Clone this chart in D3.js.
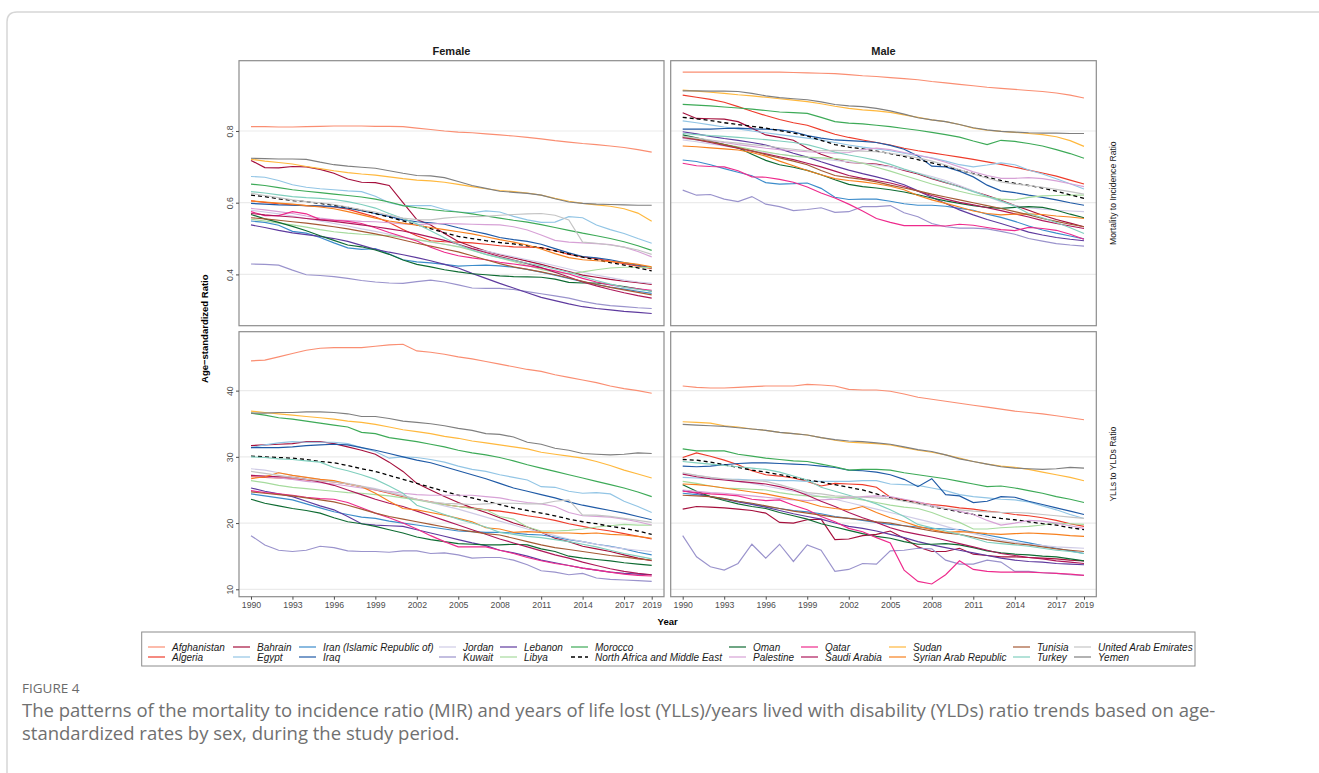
<!DOCTYPE html>
<html>
<head>
<meta charset="utf-8">
<script src="https://cdn.jsdelivr.net/npm/d3@7"></script>
<style>
  body { margin: 0; background: #fff; }
  svg { display: block; }
</style>
</head>
<body>
<div id="chart"></div>
<script>
// ---- data -------------------------------------------------------------
const years = [1990, 1991, 1992, 1993, 1994, 1995, 1996, 1997, 1998, 1999,
  2000, 2001, 2002, 2003, 2004, 2005, 2006, 2007, 2008, 2009,
  2010, 2011, 2012, 2013, 2014, 2015, 2016, 2017, 2018, 2019];
const xTicks = [1990, 1993, 1996, 1999, 2002, 2005, 2008, 2011, 2014, 2017, 2019];
const mirTicks = [0.4, 0.6, 0.8];
const yllTicks = [10, 20, 30, 40];
const sexes = ["Female", "Male"];
const measures = ["Mortality to Incidence Ratio", "YLLs to YLDs Ratio"];

const REGION = "North Africa and Middle East";
const countries = ["Afghanistan", "Algeria", "Bahrain", "Egypt", "Iran (Islamic Republic of)", "Iraq",
  "Jordan", "Kuwait", "Lebanon", "Libya", "Morocco", REGION, "Oman", "Palestine", "Qatar",
  "Saudi Arabia", "Sudan", "Syrian Arab Republic", "Tunisia", "Turkey", "United Arab Emirates", "Yemen"];
const palette = ["#fa8e72", "#ee3b2a", "#a50f3c", "#92c5e5", "#3c8ccb", "#1f5aa6",
  "#cfcbe6", "#9a93cc", "#5e3a9e", "#a6db9d", "#3daa57", "#000000", "#0e6b32", "#d7a1d6", "#ee2a8c",
  "#ae1759", "#ffb83d", "#f7801e", "#a45a34", "#80cfbe", "#c4c4c4", "#7f7f7f"];

// mortality to incidence ratio, female
const mirFemale = {
  "Afghanistan": [0.812,0.812,0.811,0.811,0.812,0.813,0.814,0.814,0.814,0.813,0.813,0.812,0.808,0.804,0.800,0.797,0.795,0.792,0.789,0.786,0.782,0.778,0.773,0.769,0.765,0.762,0.758,0.754,0.748,0.741],
  "Algeria": [0.605,0.601,0.597,0.594,0.592,0.590,0.588,0.582,0.571,0.560,0.545,0.525,0.508,0.494,0.491,0.490,0.488,0.484,0.480,0.477,0.476,0.475,0.466,0.456,0.449,0.444,0.437,0.430,0.423,0.416],
  "Bahrain": [0.718,0.698,0.697,0.701,0.700,0.693,0.682,0.666,0.657,0.656,0.648,0.600,0.553,0.538,0.514,0.492,0.478,0.465,0.455,0.446,0.437,0.428,0.418,0.408,0.398,0.392,0.386,0.381,0.377,0.372],
  "Egypt": [0.673,0.671,0.662,0.650,0.643,0.639,0.636,0.633,0.631,0.618,0.600,0.592,0.592,0.592,0.581,0.574,0.572,0.577,0.574,0.562,0.552,0.545,0.546,0.561,0.558,0.538,0.525,0.514,0.500,0.487],
  "Iran (Islamic Republic of)": [0.549,0.545,0.537,0.520,0.515,0.503,0.488,0.474,0.470,0.472,0.457,0.441,0.435,0.432,0.428,0.423,0.425,0.426,0.424,0.420,0.414,0.406,0.398,0.389,0.380,0.372,0.365,0.359,0.353,0.347],
  "Iraq": [0.598,0.596,0.594,0.593,0.592,0.591,0.589,0.585,0.578,0.570,0.562,0.552,0.547,0.544,0.540,0.530,0.521,0.513,0.503,0.497,0.492,0.484,0.472,0.460,0.450,0.446,0.441,0.433,0.426,0.419],
  "Jordan": [0.579,0.574,0.569,0.563,0.556,0.549,0.542,0.535,0.527,0.520,0.512,0.504,0.497,0.490,0.484,0.478,0.472,0.465,0.457,0.449,0.441,0.433,0.424,0.415,0.406,0.398,0.391,0.384,0.379,0.375],
  "Kuwait": [0.429,0.428,0.426,0.412,0.399,0.397,0.394,0.389,0.383,0.379,0.376,0.375,0.380,0.384,0.379,0.371,0.362,0.361,0.361,0.358,0.352,0.346,0.340,0.334,0.325,0.318,0.313,0.310,0.307,0.305],
  "Lebanon": [0.538,0.531,0.523,0.516,0.511,0.506,0.500,0.492,0.481,0.470,0.462,0.455,0.447,0.438,0.428,0.418,0.403,0.389,0.375,0.362,0.349,0.336,0.327,0.318,0.310,0.305,0.301,0.297,0.294,0.291],
  "Libya": [0.554,0.549,0.543,0.538,0.532,0.525,0.519,0.515,0.512,0.510,0.508,0.503,0.497,0.491,0.484,0.477,0.467,0.456,0.446,0.436,0.425,0.414,0.406,0.402,0.407,0.413,0.418,0.420,0.420,0.419],
  "Morocco": [0.652,0.648,0.642,0.636,0.632,0.628,0.624,0.620,0.616,0.610,0.602,0.592,0.586,0.581,0.577,0.574,0.569,0.563,0.557,0.551,0.546,0.539,0.531,0.523,0.515,0.508,0.500,0.491,0.480,0.467],
  "North Africa and Middle East": [0.621,0.617,0.611,0.606,0.603,0.598,0.593,0.587,0.579,0.570,0.560,0.549,0.538,0.528,0.516,0.506,0.500,0.494,0.489,0.485,0.480,0.474,0.466,0.457,0.448,0.441,0.433,0.426,0.418,0.410],
  "Oman": [0.567,0.555,0.545,0.534,0.522,0.508,0.495,0.482,0.477,0.468,0.456,0.440,0.428,0.421,0.413,0.407,0.402,0.399,0.396,0.394,0.393,0.392,0.387,0.378,0.376,0.376,0.372,0.366,0.360,0.353],
  "Palestine": [0.584,0.580,0.575,0.570,0.563,0.557,0.552,0.550,0.548,0.547,0.544,0.541,0.539,0.541,0.542,0.541,0.540,0.539,0.538,0.533,0.524,0.510,0.495,0.490,0.488,0.486,0.483,0.476,0.464,0.449],
  "Qatar": [0.575,0.564,0.564,0.575,0.569,0.553,0.551,0.548,0.542,0.530,0.517,0.505,0.493,0.476,0.462,0.452,0.446,0.441,0.434,0.429,0.424,0.418,0.410,0.401,0.389,0.379,0.371,0.365,0.360,0.356],
  "Saudi Arabia": [0.570,0.566,0.563,0.560,0.556,0.552,0.548,0.543,0.538,0.533,0.527,0.521,0.513,0.504,0.495,0.484,0.472,0.461,0.450,0.440,0.430,0.419,0.406,0.393,0.379,0.368,0.358,0.349,0.341,0.334],
  "Sudan": [0.721,0.716,0.712,0.708,0.701,0.695,0.689,0.684,0.680,0.677,0.672,0.667,0.663,0.661,0.657,0.651,0.645,0.639,0.634,0.631,0.627,0.621,0.612,0.604,0.598,0.594,0.590,0.583,0.571,0.548],
  "Syrian Arab Republic": [0.605,0.602,0.599,0.596,0.592,0.588,0.583,0.575,0.566,0.557,0.549,0.543,0.537,0.531,0.525,0.519,0.513,0.505,0.497,0.490,0.482,0.471,0.458,0.447,0.441,0.438,0.436,0.433,0.428,0.421],
  "Tunisia": [0.558,0.555,0.551,0.547,0.543,0.538,0.533,0.527,0.520,0.513,0.505,0.496,0.487,0.479,0.471,0.463,0.452,0.441,0.430,0.421,0.414,0.407,0.399,0.390,0.381,0.372,0.364,0.357,0.350,0.343],
  "Turkey": [0.631,0.627,0.622,0.617,0.614,0.612,0.609,0.603,0.595,0.585,0.570,0.556,0.541,0.522,0.502,0.483,0.468,0.456,0.447,0.439,0.431,0.424,0.415,0.406,0.394,0.383,0.373,0.364,0.358,0.353],
  "United Arab Emirates": [0.626,0.620,0.614,0.608,0.603,0.600,0.595,0.588,0.580,0.574,0.565,0.557,0.553,0.552,0.557,0.560,0.561,0.562,0.565,0.567,0.569,0.570,0.565,0.552,0.490,0.487,0.482,0.476,0.468,0.456],
  "Yemen": [0.724,0.723,0.722,0.722,0.721,0.713,0.706,0.702,0.699,0.696,0.689,0.682,0.676,0.675,0.670,0.659,0.648,0.640,0.632,0.629,0.626,0.621,0.611,0.602,0.598,0.596,0.595,0.594,0.593,0.593]
};

// mortality to incidence ratio, male
const mirMale = {
  "Afghanistan": [0.964,0.964,0.964,0.964,0.964,0.964,0.964,0.964,0.963,0.962,0.961,0.960,0.957,0.954,0.952,0.949,0.946,0.943,0.938,0.934,0.930,0.926,0.922,0.919,0.916,0.913,0.910,0.906,0.900,0.892],
  "Algeria": [0.900,0.894,0.888,0.880,0.868,0.855,0.843,0.832,0.823,0.816,0.803,0.791,0.782,0.775,0.768,0.761,0.752,0.745,0.739,0.733,0.727,0.721,0.714,0.707,0.699,0.691,0.683,0.674,0.663,0.652],
  "Bahrain": [0.851,0.835,0.834,0.833,0.826,0.808,0.789,0.782,0.774,0.752,0.735,0.722,0.712,0.710,0.708,0.701,0.690,0.680,0.667,0.656,0.645,0.632,0.620,0.607,0.592,0.579,0.565,0.553,0.543,0.533],
  "Egypt": [0.828,0.823,0.817,0.811,0.806,0.800,0.795,0.790,0.785,0.780,0.775,0.768,0.761,0.755,0.750,0.745,0.738,0.731,0.725,0.716,0.706,0.700,0.705,0.711,0.706,0.691,0.680,0.667,0.653,0.638],
  "Iran (Islamic Republic of)": [0.719,0.715,0.706,0.695,0.685,0.675,0.656,0.652,0.653,0.655,0.640,0.615,0.609,0.610,0.610,0.604,0.597,0.593,0.593,0.590,0.584,0.579,0.568,0.559,0.548,0.535,0.524,0.515,0.507,0.499],
  "Iraq": [0.805,0.805,0.805,0.807,0.808,0.806,0.805,0.803,0.798,0.787,0.780,0.775,0.773,0.771,0.768,0.760,0.749,0.730,0.702,0.700,0.688,0.672,0.649,0.633,0.628,0.621,0.615,0.608,0.600,0.593],
  "Jordan": [0.775,0.770,0.764,0.758,0.752,0.746,0.740,0.735,0.730,0.726,0.722,0.718,0.714,0.710,0.705,0.700,0.692,0.683,0.673,0.662,0.648,0.633,0.617,0.603,0.592,0.586,0.582,0.579,0.577,0.575],
  "Kuwait": [0.635,0.621,0.623,0.610,0.603,0.617,0.596,0.589,0.578,0.581,0.586,0.573,0.575,0.589,0.589,0.592,0.572,0.561,0.542,0.533,0.529,0.529,0.527,0.520,0.512,0.500,0.493,0.486,0.482,0.479],
  "Lebanon": [0.798,0.792,0.785,0.779,0.774,0.768,0.761,0.750,0.738,0.727,0.714,0.702,0.691,0.681,0.672,0.662,0.650,0.633,0.615,0.598,0.580,0.566,0.553,0.542,0.530,0.518,0.510,0.503,0.498,0.494],
  "Libya": [0.780,0.775,0.769,0.763,0.756,0.749,0.742,0.735,0.730,0.727,0.725,0.723,0.719,0.710,0.699,0.688,0.676,0.664,0.652,0.642,0.632,0.623,0.616,0.610,0.608,0.615,0.619,0.620,0.621,0.621],
  "Morocco": [0.874,0.872,0.870,0.867,0.864,0.861,0.857,0.853,0.851,0.849,0.838,0.826,0.822,0.820,0.816,0.812,0.807,0.802,0.796,0.790,0.783,0.772,0.762,0.774,0.771,0.765,0.758,0.748,0.737,0.724],
  "North Africa and Middle East": [0.838,0.834,0.829,0.823,0.818,0.813,0.808,0.801,0.794,0.786,0.774,0.762,0.755,0.750,0.744,0.737,0.729,0.720,0.711,0.702,0.691,0.681,0.671,0.662,0.654,0.648,0.641,0.632,0.622,0.612],
  "Oman": [0.789,0.781,0.772,0.762,0.753,0.735,0.718,0.706,0.699,0.690,0.678,0.664,0.651,0.645,0.641,0.636,0.630,0.622,0.613,0.605,0.598,0.592,0.587,0.584,0.587,0.589,0.587,0.579,0.568,0.558],
  "Palestine": [0.780,0.776,0.772,0.768,0.762,0.757,0.752,0.748,0.745,0.742,0.740,0.738,0.740,0.748,0.752,0.748,0.740,0.733,0.724,0.713,0.700,0.686,0.676,0.668,0.668,0.670,0.667,0.661,0.653,0.645],
  "Qatar": [0.710,0.703,0.701,0.700,0.689,0.672,0.671,0.665,0.657,0.644,0.627,0.613,0.596,0.577,0.556,0.545,0.536,0.536,0.536,0.535,0.540,0.537,0.531,0.525,0.522,0.531,0.528,0.523,0.512,0.498],
  "Saudi Arabia": [0.782,0.776,0.768,0.760,0.752,0.744,0.736,0.728,0.720,0.710,0.700,0.688,0.676,0.668,0.662,0.655,0.645,0.632,0.620,0.610,0.601,0.594,0.586,0.578,0.569,0.560,0.550,0.542,0.535,0.528],
  "Sudan": [0.914,0.911,0.908,0.905,0.901,0.898,0.894,0.890,0.886,0.882,0.876,0.869,0.863,0.859,0.856,0.852,0.845,0.838,0.831,0.826,0.818,0.808,0.802,0.799,0.796,0.793,0.790,0.784,0.773,0.757],
  "Syrian Arab Republic": [0.758,0.756,0.753,0.750,0.747,0.740,0.730,0.716,0.703,0.690,0.678,0.667,0.662,0.658,0.653,0.646,0.636,0.620,0.608,0.598,0.588,0.577,0.570,0.566,0.568,0.569,0.567,0.563,0.560,0.556],
  "Tunisia": [0.784,0.777,0.770,0.762,0.754,0.745,0.734,0.725,0.716,0.706,0.690,0.676,0.670,0.665,0.658,0.649,0.641,0.633,0.624,0.616,0.608,0.600,0.592,0.584,0.575,0.566,0.556,0.548,0.540,0.533],
  "Turkey": [0.793,0.790,0.787,0.785,0.782,0.779,0.776,0.772,0.768,0.762,0.752,0.741,0.733,0.726,0.718,0.707,0.694,0.682,0.669,0.657,0.644,0.631,0.618,0.605,0.590,0.570,0.558,0.545,0.530,0.514],
  "United Arab Emirates": [0.785,0.780,0.775,0.770,0.766,0.762,0.758,0.753,0.749,0.745,0.745,0.746,0.745,0.744,0.742,0.738,0.732,0.725,0.716,0.705,0.692,0.680,0.668,0.658,0.652,0.648,0.643,0.637,0.631,0.624],
  "Yemen": [0.912,0.912,0.911,0.911,0.910,0.905,0.898,0.893,0.890,0.887,0.881,0.874,0.870,0.868,0.863,0.856,0.847,0.837,0.831,0.826,0.818,0.809,0.803,0.799,0.797,0.795,0.794,0.794,0.793,0.793]
};

// YLLs to YLDs ratio, female
const yllFemale = {
  "Afghanistan": [44.5,44.6,45.1,45.6,46.1,46.4,46.5,46.5,46.5,46.7,46.9,47.0,46.0,45.8,45.5,45.1,44.8,44.4,44.0,43.6,43.2,42.9,42.4,42.0,41.6,41.2,40.7,40.3,40.0,39.6],
  "Algeria": [27.0,26.9,26.8,26.7,26.5,26.4,26.2,25.9,25.5,25.0,24.5,24.0,23.6,23.2,22.8,22.5,22.3,22.0,21.8,21.5,21.1,20.8,20.4,19.9,19.5,19.1,18.8,18.4,18.0,17.6],
  "Bahrain": [31.7,31.8,31.9,32.0,32.3,32.3,32.0,31.5,31.0,30.4,29.2,27.8,26.0,25.0,24.0,23.1,22.3,21.6,20.8,20.0,19.4,18.6,17.7,17.2,16.5,16.1,15.7,15.2,14.7,14.3],
  "Egypt": [31.4,31.8,32.1,32.3,32.2,32.2,32.2,32.0,31.4,30.8,29.8,30.0,29.9,29.6,29.2,28.6,28.1,27.8,27.3,26.9,26.5,25.5,25.4,24.8,24.5,24.6,24.4,23.3,22.5,21.6],
  "Iran (Islamic Republic of)": [24.4,24.1,23.8,23.5,22.9,22.3,21.7,21.3,20.9,20.7,20.3,20.0,19.7,19.4,19.1,18.8,18.7,18.6,18.6,18.5,18.3,18.2,17.9,17.5,17.2,16.8,16.5,16.1,15.6,15.2],
  "Iraq": [31.4,31.4,31.4,31.5,31.7,31.8,31.9,31.8,31.4,31.0,30.5,30.0,29.5,29.1,28.5,27.9,27.3,26.7,26.0,25.3,24.8,24.3,23.8,23.2,22.7,22.3,21.9,21.5,21.0,20.5],
  "Jordan": [28.2,28.0,27.6,27.2,26.9,26.6,26.3,26.0,25.6,25.2,24.7,24.2,23.6,23.1,22.6,22.1,21.5,20.9,20.3,19.7,19.1,18.6,18.1,17.6,17.2,16.8,16.4,16.1,15.9,15.7],
  "Kuwait": [18.1,16.7,15.9,15.7,15.9,16.5,16.3,15.8,15.7,15.7,15.6,15.8,15.8,15.4,15.5,15.2,14.7,14.8,14.8,14.4,13.7,12.8,12.6,12.2,12.4,11.7,11.5,11.4,11.3,11.2],
  "Lebanon": [25.3,24.8,24.4,24.0,23.3,22.6,22.0,21.0,19.9,19.7,19.6,19.5,19.0,18.5,18.0,17.5,17.0,16.6,15.9,15.5,15.0,14.4,14.0,13.6,13.2,12.9,12.6,12.4,12.3,12.2],
  "Libya": [26.4,26.1,25.7,25.4,25.2,25.0,24.8,24.6,24.5,24.3,24.1,23.8,23.5,23.1,22.8,22.5,22.2,22.0,21.0,20.6,19.4,18.8,18.8,18.9,19.1,19.4,19.6,19.8,19.7,19.7],
  "Morocco": [36.6,36.3,35.9,35.7,35.4,35.1,34.8,34.5,33.7,33.5,32.9,32.6,32.3,31.9,31.5,31.0,30.6,30.3,29.9,29.4,28.8,28.3,27.8,27.3,26.8,26.3,25.8,25.3,24.7,24.0],
  "North Africa and Middle East": [30.1,30.0,29.9,29.8,29.6,29.3,29.1,28.7,28.2,27.8,27.2,26.6,26.0,25.4,24.8,24.2,23.8,23.3,22.8,22.3,21.9,21.5,21.1,20.6,20.2,19.9,19.5,19.2,18.8,18.3],
  "Oman": [23.6,23.0,22.6,22.2,21.9,21.5,20.8,20.2,19.9,19.5,19.0,18.5,17.9,17.5,17.2,16.9,16.8,16.7,16.7,16.8,16.7,16.1,15.7,15.0,14.7,14.5,14.3,14.0,13.8,13.6],
  "Palestine": [27.2,27.0,26.8,26.6,26.3,26.1,25.9,25.6,25.3,25.0,24.8,24.5,24.3,24.2,24.2,24.2,24.2,24.0,23.8,23.4,23.1,22.9,22.5,21.6,21.1,21.0,20.9,20.6,20.2,19.7],
  "Qatar": [24.9,24.6,24.4,24.2,23.9,23.7,23.6,23.1,22.3,21.5,20.8,20.0,19.1,18.1,17.2,16.4,16.4,16.4,15.9,15.4,14.8,14.3,13.9,13.6,13.2,12.9,12.6,12.3,12.1,12.0],
  "Saudi Arabia": [27.2,27.1,27.0,26.9,26.6,26.2,25.7,25.0,24.3,23.6,23.0,22.5,21.8,21.1,20.4,19.7,19.0,18.3,17.6,17.0,16.4,15.8,15.2,14.7,14.1,13.6,13.1,12.7,12.4,12.2],
  "Sudan": [36.9,36.7,36.5,36.3,36.1,35.9,35.7,35.4,35.2,34.9,34.5,34.1,33.8,33.5,33.1,32.8,32.4,32.1,31.8,31.5,31.2,30.7,30.4,30.1,29.8,29.3,28.7,28.0,27.4,26.8],
  "Syrian Arab Republic": [26.7,27.0,27.6,27.2,26.9,26.6,26.4,25.9,25.5,24.5,23.3,22.2,22.0,21.6,21.2,20.7,20.2,19.3,19.1,18.6,18.7,18.6,18.5,18.5,18.4,18.5,18.3,18.2,18.0,17.7],
  "Tunisia": [24.7,24.5,24.3,24.1,23.8,23.5,23.2,22.7,22.1,21.5,21.0,20.6,20.2,19.8,19.4,19.0,18.7,18.4,18.2,17.7,17.2,16.7,16.3,16.0,15.7,15.4,15.1,14.9,14.6,14.4],
  "Turkey": [30.0,29.9,29.7,29.6,29.4,29.2,28.4,27.9,27.3,26.6,25.6,24.5,22.7,22.0,21.3,20.6,20.0,19.4,18.6,18.3,18.0,17.8,17.5,17.2,16.8,16.4,15.9,15.4,15.0,14.6],
  "United Arab Emirates": [27.8,27.5,27.2,26.9,26.6,26.4,26.2,25.9,25.5,25.1,24.6,24.1,23.6,23.2,23.0,22.9,22.8,22.9,23.0,23.0,22.9,22.9,23.3,23.5,21.2,21.2,21.0,20.7,20.4,20.1],
  "Yemen": [36.6,36.6,36.7,36.7,36.8,36.8,36.7,36.5,36.1,36.1,35.8,35.4,35.2,35.0,34.7,34.3,34.0,33.5,33.4,33.0,32.2,31.9,31.3,31.0,30.5,30.4,30.3,30.4,30.6,30.5]
};

// YLLs to YLDs ratio, male
const yllMale = {
  "Afghanistan": [40.7,40.5,40.4,40.4,40.5,40.6,40.7,40.7,40.7,40.95,40.85,40.7,40.2,40.1,40.1,39.9,39.5,39.0,38.7,38.4,38.1,37.8,37.5,37.2,36.9,36.7,36.5,36.2,35.9,35.6],
  "Algeria": [29.9,30.6,30.1,29.5,28.8,27.9,27.3,27.1,26.8,26.3,25.6,26.0,25.9,25.8,25.4,23.9,23.5,23.1,22.8,22.6,22.3,22.1,21.8,21.6,21.3,21.1,20.8,20.4,19.9,19.5],
  "Bahrain": [22.1,22.5,22.4,22.3,22.1,21.9,21.5,20.1,20.0,20.5,20.6,17.5,17.6,18.1,18.3,18.8,17.7,16.4,15.7,15.7,16.2,15.3,15.1,14.9,14.9,14.8,14.7,14.6,14.4,14.3],
  "Egypt": [26.9,26.8,26.7,26.6,26.6,26.5,26.5,26.4,26.4,26.3,26.3,26.3,26.3,26.4,26.4,25.9,25.8,25.7,25.3,24.9,24.3,24.0,23.8,23.6,23.5,23.2,22.6,22.0,21.3,20.7],
  "Iran (Islamic Republic of)": [24.5,24.3,24.0,23.7,23.3,22.9,22.5,22.2,21.9,21.7,21.4,21.0,20.7,20.4,20.1,19.8,19.6,19.4,19.2,19.1,19.0,18.6,18.2,17.8,17.4,17.0,16.6,16.2,15.8,15.4],
  "Iraq": [28.6,28.5,28.6,28.8,29.0,29.1,29.1,29.0,28.9,28.8,28.6,28.4,28.0,27.9,27.7,27.3,26.6,25.5,26.7,24.3,24.1,23.1,23.3,24.0,23.9,23.3,22.8,22.3,21.8,21.3],
  "Jordan": [27.5,27.2,26.9,26.6,26.3,26.0,25.6,25.2,24.8,24.4,24.0,23.6,23.1,22.6,22.1,21.6,21.1,20.6,20.1,19.5,18.9,18.4,17.9,17.4,17.1,16.8,16.6,16.4,16.3,16.2],
  "Kuwait": [18.1,14.9,13.4,12.9,13.9,16.8,14.7,16.8,14.2,16.7,15.9,12.7,13.0,13.9,13.8,15.8,15.9,16.2,16.1,14.4,13.8,13.8,14.4,14.1,12.7,12.7,12.5,12.4,12.2,12.1],
  "Lebanon": [24.9,24.5,24.0,23.6,23.2,22.8,22.4,21.9,21.4,21.0,20.6,20.0,19.5,19.2,18.8,18.3,17.8,17.2,16.7,16.3,15.9,15.5,15.1,14.7,14.4,14.2,14.1,13.9,13.8,13.7],
  "Libya": [26.3,26.0,25.6,25.3,25.2,25.1,25.0,24.6,24.3,24.1,24.0,23.9,23.8,23.5,23.1,22.7,22.4,22.2,21.6,20.8,20.1,19.1,19.1,19.3,19.4,19.5,19.7,20.0,19.9,19.8],
  "Morocco": [31.2,30.9,30.9,30.9,30.4,30.1,29.8,29.6,29.4,29.3,28.9,28.5,28.0,28.1,28.1,28.0,27.6,27.3,27.0,26.7,26.3,25.9,25.5,25.6,25.3,24.9,24.5,24.0,23.6,23.1],
  "North Africa and Middle East": [29.6,29.5,29.2,28.8,28.4,28.0,27.7,27.3,26.9,26.5,26.2,25.8,25.4,25.0,24.4,23.8,23.4,23.0,22.5,22.1,21.7,21.3,21.0,20.7,20.5,20.2,19.9,19.7,19.3,19.0],
  "Oman": [25.8,24.8,24.0,23.4,22.9,22.5,22.2,21.6,21.1,20.6,19.9,19.4,18.9,18.4,18.0,17.7,17.2,16.8,16.8,16.9,16.7,16.3,15.8,15.5,15.3,15.2,15.0,14.9,14.6,14.3],
  "Palestine": [25.0,24.8,24.6,24.5,24.3,24.1,23.9,23.7,23.5,23.4,23.5,23.6,23.8,24.0,24.1,24.0,23.6,23.2,22.7,22.2,21.8,21.3,20.4,19.7,20.0,20.4,20.3,20.0,19.6,19.2],
  "Qatar": [24.8,24.6,24.4,24.3,24.1,23.6,23.4,23.5,22.7,22.0,21.0,20.2,19.2,18.7,17.8,17.0,12.9,11.2,10.8,12.2,14.3,13.0,12.7,12.6,12.6,12.6,12.5,12.4,12.3,12.1],
  "Saudi Arabia": [27.4,27.0,26.7,26.5,26.3,26.1,25.9,25.5,25.0,24.2,23.3,22.5,21.6,20.8,20.1,19.3,18.7,18.3,17.9,17.4,16.9,16.4,15.9,15.4,15.1,14.8,14.6,14.3,14.1,13.9],
  "Sudan": [35.3,35.2,35.1,34.7,34.5,34.2,34.0,33.7,33.5,33.3,32.9,32.5,32.2,32.1,32.0,31.8,31.4,31.0,30.7,30.3,29.8,29.3,28.9,28.6,28.4,28.1,27.7,27.3,26.9,26.4],
  "Syrian Arab Republic": [25.9,25.8,25.6,25.3,25.0,24.7,24.4,24.0,23.6,23.1,22.5,22.2,22.0,22.5,21.6,20.8,20.2,19.5,19.0,18.6,18.7,18.6,18.4,18.3,18.4,18.5,18.4,18.3,18.1,18.0],
  "Tunisia": [24.2,24.1,24.0,23.7,23.3,23.0,22.6,22.2,21.8,21.5,21.2,20.9,20.7,20.5,20.2,20.0,19.6,19.2,18.8,18.5,18.3,17.9,17.5,17.2,16.9,16.7,16.4,16.1,15.9,15.7],
  "Turkey": [29.3,29.1,28.9,28.7,28.5,28.3,28.1,27.7,27.1,26.5,25.4,24.8,24.2,23.6,22.9,22.0,21.0,19.8,19.3,18.8,18.3,17.7,17.1,16.9,16.7,16.5,16.2,15.9,15.7,15.4],
  "United Arab Emirates": [27.6,27.2,26.9,26.7,26.5,26.4,26.3,25.8,25.2,24.6,24.4,24.1,24.0,23.9,23.8,23.7,23.3,22.9,22.5,22.2,22.0,21.8,21.7,21.6,21.6,21.5,21.3,21.1,20.9,20.7],
  "Yemen": [34.9,34.8,34.7,34.6,34.4,34.2,34.0,33.7,33.5,33.3,32.9,32.6,32.4,32.3,32.1,31.9,31.5,31.1,30.8,30.3,29.7,29.3,28.9,28.5,28.3,28.2,28.1,28.2,28.4,28.3]
};

// ---- layout -----------------------------------------------------------
const width = 1319;
const height = 773;
const font = "'Liberation Sans', Arial, Helvetica, sans-serif";

const svg = d3.select("#chart").append("svg")
  .attr("width", width)
  .attr("height", height)
  .style("font-family", font);

// page frame of the figure box
svg.append("path")
  .attr("d", "M1319,12 H17 Q7,12 7,22 V773")
  .attr("fill", "none")
  .attr("stroke", "#d6d6d6")
  .attr("stroke-width", 1.5);

const colBox = [[239, 664], [670.7, 1096.3]];
const rowBox = [[60.7, 325.7], [331.7, 596.7]];
const rowDomain = [[0.257, 0.996], [8.88, 48.9]];
const rowTicks = [mirTicks, yllTicks];
const rowFormat = [d3.format(".1f"), d3.format("d")];
const panelData = [[mirFemale, mirMale], [yllFemale, yllMale]];

const color = d3.scaleOrdinal(countries, palette);

const xScales = colBox.map(([x0, x1]) =>
  d3.scaleLinear().domain([1990, 2019]).range([x0 + 12, x1 - 12.3]));
const yScales = rowBox.map(([y0, y1], r) =>
  d3.scaleLinear().domain(rowDomain[r]).range([y1, y0]));

rowBox.forEach((rb, r) => {
  colBox.forEach((cb, c) => {
    const x = xScales[c];
    const y = yScales[r];
    const g = svg.append("g");

    // horizontal grid
    g.selectAll("line.grid")
      .data(rowTicks[r])
      .enter()
      .append("line")
      .attr("x1", cb[0]).attr("x2", cb[1])
      .attr("y1", d => y(d)).attr("y2", d => y(d))
      .attr("stroke", "#ebebeb")
      .attr("stroke-width", 1.2);

    const line = d3.line()
      .x((d, i) => x(years[i]))
      .y(d => y(d));

    const data = panelData[r][c];
    g.selectAll("path.series")
      .data(countries)
      .enter()
      .append("path")
      .attr("class", "series")
      .attr("d", k => line(data[k]))
      .attr("fill", "none")
      .attr("stroke", k => color(k))
      .attr("stroke-width", k => k === REGION ? 1.3 : 1.15)
      .attr("stroke-dasharray", k => k === REGION ? "4,3" : null);

    g.append("rect")
      .attr("x", cb[0]).attr("y", rb[0])
      .attr("width", cb[1] - cb[0]).attr("height", rb[1] - rb[0])
      .attr("fill", "none")
      .attr("stroke", "#8c8c8c")
      .attr("stroke-width", 1.2);

    if (r === 1) {
      const ax = g.append("g")
        .attr("transform", `translate(0,${rb[1]})`)
        .call(d3.axisBottom(x).tickValues(xTicks).tickFormat(d3.format("d")).tickSize(3).tickPadding(2));
      ax.select(".domain").remove();
      ax.selectAll(".tick line").attr("stroke", "#4d4d4d");
      ax.selectAll(".tick text")
        .attr("fill", "#4d4d4d")
        .style("font-size", "8.7px")
        .style("font-family", font);
    }
    if (c === 0) {
      const ay = g.append("g")
        .attr("transform", `translate(${cb[0]},0)`)
        .call(d3.axisLeft(y).tickValues(rowTicks[r]).tickFormat(rowFormat[r]).tickSize(3));
      ay.select(".domain").remove();
      ay.selectAll(".tick line").attr("stroke", "#4d4d4d");
      ay.selectAll(".tick text")
        .attr("fill", "#4d4d4d")
        .attr("transform", "rotate(-90)")
        .attr("x", 0)
        .attr("y", -6)
        .attr("dy", 0)
        .attr("text-anchor", "middle")
        .style("font-size", "8.7px")
        .style("font-family", font);
    }
  });
});

// strips
sexes.forEach((s, c) => {
  svg.append("text")
    .attr("x", (colBox[c][0] + colBox[c][1]) / 2)
    .attr("y", 55)
    .attr("text-anchor", "middle")
    .attr("font-weight", "bold")
    .attr("font-size", 11)
    .attr("fill", "#1a1a1a")
    .text(s);
});
measures.forEach((m, r) => {
  const cy = (rowBox[r][0] + rowBox[r][1]) / 2;
  svg.append("text")
    .attr("transform", `translate(1113,${cy}) rotate(-90)`)
    .attr("text-anchor", "middle")
    .attr("dy", "0.35em")
    .attr("font-size", 8.6)
    .attr("fill", "#1a1a1a")
    .text(m);
});

// axis titles
svg.append("text")
  .attr("transform", `translate(205,${(rowBox[0][0] + rowBox[1][1]) / 2}) rotate(-90)`)
  .attr("text-anchor", "middle")
  .attr("dy", "0.35em")
  .attr("font-weight", "bold")
  .attr("font-size", 9.5)
  .attr("fill", "#000")
  .text("Age\u2212standardized Ratio");
svg.append("text")
  .attr("x", (colBox[0][0] + colBox[1][1]) / 2)
  .attr("y", 622)
  .attr("dy", "0.35em")
  .attr("text-anchor", "middle")
  .attr("font-weight", "bold")
  .attr("font-size", 9.5)
  .attr("fill", "#000")
  .text("Year");

// legend
const legend = svg.append("g");
legend.append("rect")
  .attr("x", 141.7).attr("y", 632)
  .attr("width", 1053.3).attr("height", 34)
  .attr("fill", "#fff")
  .attr("stroke", "#8c8c8c")
  .attr("stroke-width", 1);
const legendTextX = [172, 257, 323, 463, 524, 595, 753, 825, 913, 1037, 1098];
const legendRowY = [647, 657];
countries.forEach((k, i) => {
  const col = Math.floor(i / 2);
  const row = i % 2;
  const tx = legendTextX[col];
  const ly = legendRowY[row];
  legend.append("line")
    .attr("x1", tx - 24).attr("x2", tx - 7)
    .attr("y1", ly).attr("y2", ly)
    .attr("stroke", color(k))
    .attr("stroke-width", k === REGION ? 1.3 : 1.2)
    .attr("stroke-dasharray", k === REGION ? "4,3" : null);
  legend.append("text")
    .attr("x", tx).attr("y", ly)
    .attr("dy", "0.35em")
    .attr("font-size", 10)
    .attr("font-style", "italic")
    .attr("fill", "#1a1a1a")
    .text(k);
});

// caption
const capFont = "'Open Sans', 'Noto Sans', sans-serif";
svg.append("text")
  .attr("x", 22).attr("y", 693)
  .attr("font-family", capFont)
  .attr("font-size", 13.5)
  .attr("fill", "#6b6b6b")
  .text("FIGURE 4");
const caption = [
  "The patterns of the mortality to incidence ratio (MIR) and years of life lost (YLLs)/years lived with disability (YLDs) ratio trends based on age-",
  "standardized rates by sex, during the study period."
];
caption.forEach((t, i) => {
  svg.append("text")
    .attr("x", 22).attr("y", 717 + i * 22.5)
    .attr("font-family", capFont)
    .attr("font-size", 18.5)
    .attr("fill", "#707070")
    .text(t);
});
</script>
</body>
</html>
